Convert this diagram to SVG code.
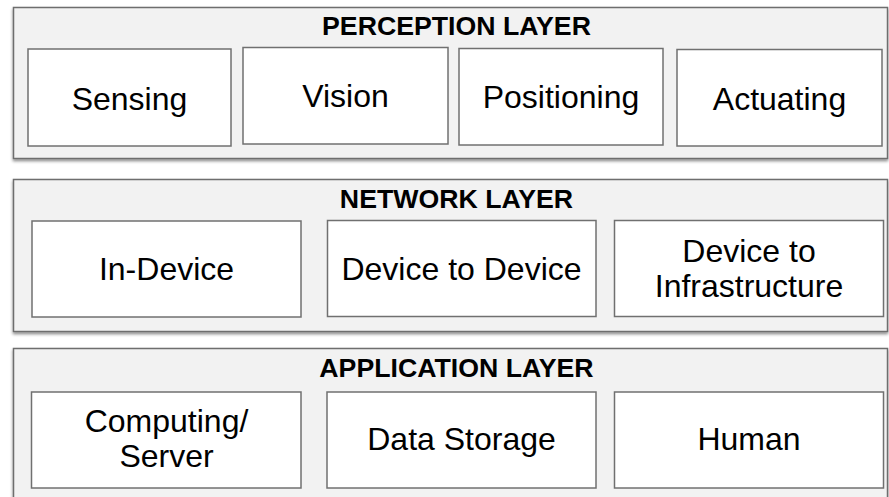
<svg xmlns="http://www.w3.org/2000/svg" width="889" height="497" viewBox="0 0 889 497">
<defs>
<filter id="sh" x="-5%" y="-10%" width="110%" height="130%">
<feDropShadow dx="0" dy="2" stdDeviation="1.5" flood-color="#000" flood-opacity="0.45"/>
</filter>
<style>
.layer{fill:#f2f2f2;stroke:#6e6e6e;stroke-width:1.5;filter:url(#sh)}
.box{fill:#ffffff;stroke:#707070;stroke-width:1.5}
.title{font-family:"Liberation Sans",Arial,Helvetica,sans-serif;font-weight:bold;font-size:26.7px;fill:#000;text-anchor:middle}
.lbl{font-family:"Liberation Sans",Arial,Helvetica,sans-serif;font-size:32px;fill:#000;text-anchor:middle}
</style>
</defs>
<g id="perception-layer">
<rect class="layer" x="13.5" y="7.5" width="874" height="151"/>
<text class="title" x="456.5" y="35">PERCEPTION LAYER</text>
</g>
<g id="sensing"><rect class="box" x="28" y="49" width="203" height="97"/><text class="lbl" x="129.5" y="110">Sensing</text></g>
<g id="vision"><rect class="box" x="243" y="47.5" width="205" height="96.5"/><text class="lbl" x="345.5" y="107">Vision</text></g>
<g id="positioning"><rect class="box" x="459" y="48.5" width="204" height="96.5"/><text class="lbl" x="561" y="107.5">Positioning</text></g>
<g id="actuating"><rect class="box" x="677" y="49.5" width="205" height="96.5"/><text class="lbl" x="779.5" y="110">Actuating</text></g>

<g id="network-layer">
<rect class="layer" x="13.5" y="179.5" width="874" height="152"/>
<text class="title" x="456.5" y="207.5">NETWORK LAYER</text>
</g>
<g id="in-device"><rect class="box" x="32" y="221" width="269" height="96"/><text class="lbl" x="166.5" y="279.5">In-Device</text></g>
<g id="device-to-device"><rect class="box" x="327.5" y="220.5" width="268.5" height="96"/><text class="lbl" x="461.5" y="279.5">Device to Device</text></g>
<g id="device-to-infrastructure"><rect class="box" x="614.5" y="220.5" width="269" height="96"/><text class="lbl" x="749" y="261.5">Device to</text><text class="lbl" x="749" y="296.5">Infrastructure</text></g>

<g id="application-layer">
<rect class="layer" x="13.5" y="348.5" width="874" height="160"/>
<text class="title" x="456.5" y="376.5">APPLICATION LAYER</text>
</g>
<g id="computing-server"><rect class="box" x="31.5" y="392" width="269.5" height="96"/><text class="lbl" x="166.5" y="432">Computing/</text><text class="lbl" x="166.5" y="466.5">Server</text></g>
<g id="data-storage"><rect class="box" x="327" y="392" width="269" height="96"/><text class="lbl" x="461.5" y="450">Data Storage</text></g>
<g id="human"><rect class="box" x="614.5" y="392" width="269" height="96"/><text class="lbl" x="749" y="450">Human</text></g>
<g id="connectors"/>
</svg>
